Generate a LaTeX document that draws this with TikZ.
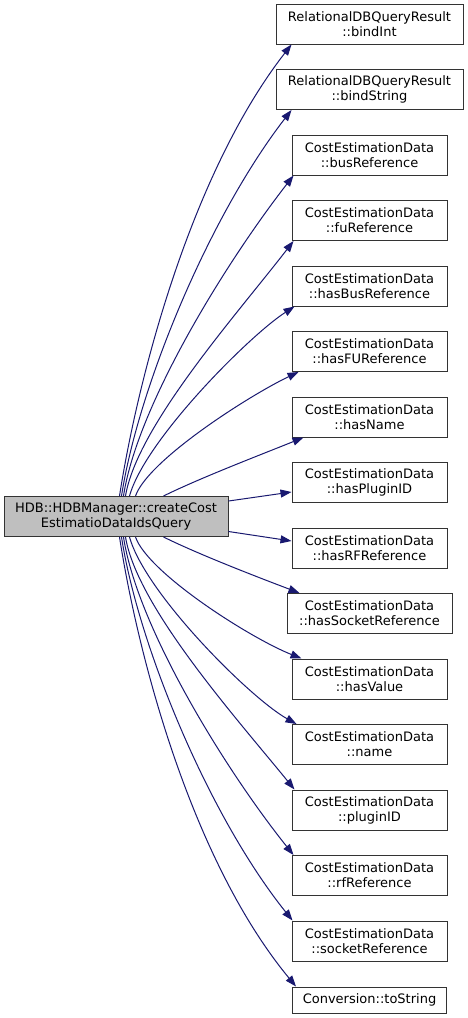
\documentclass[tikz,border=0pt]{standalone}
\usepackage{fontspec}
\setmainfont{DejaVu Sans}
\usetikzlibrary{arrows.meta,calc}
\definecolor{edgec}{HTML}{191970}
\definecolor{bordc}{HTML}{333333}
\definecolor{mainfill}{HTML}{BFBFBF}
\begin{document}
\begin{tikzpicture}[x=1pt,y=-1pt,
  every node/.style={font=\fontsize{13}{15}\selectfont},
  box/.style={draw=bordc, line width=1pt, fill=white, inner sep=0pt, align=center, minimum height=40pt, minimum width=155pt},
  edge/.style={draw=edgec, line width=1pt, -{Triangle[length=11pt,width=8pt]}}]
\fill[white] (0,0) rectangle (468,1018);
\useasboundingbox (0,0) rectangle (468,1018);
% main node
\node[box, fill=mainfill, minimum width=224pt] (m) at (116,516.5) {HDB::HDBManager::createCost\\EstimatioDataIdsQuery};
% callees
\node[box, minimum width=187pt] (b1) at (369.5,24) {RelationalDBQueryResult\\::bindInt};
\node[box, minimum width=187pt] (b2) at (369.5,89.5) {RelationalDBQueryResult\\::bindString};
\node[box] (b3) at (369.5,155) {CostEstimationData\\::busReference};
\node[box] (b4) at (369.5,220.5) {CostEstimationData\\::fuReference};
\node[box] (b5) at (369.5,286) {CostEstimationData\\::hasBusReference};
\node[box] (b6) at (369.5,351.5) {CostEstimationData\\::hasFUReference};
\node[box] (b7) at (369.5,417) {CostEstimationData\\::hasName};
\node[box] (b8) at (369.5,482.5) {CostEstimationData\\::hasPluginID};
\node[box] (b9) at (369.5,548) {CostEstimationData\\::hasRFReference};
\node[box, minimum width=165pt] (b10) at (369.5,613.5) {CostEstimationData\\::hasSocketReference};
\node[box] (b11) at (369.5,679) {CostEstimationData\\::hasValue};
\node[box] (b12) at (369.5,744.5) {CostEstimationData\\::name};
\node[box] (b13) at (369.5,810) {CostEstimationData\\::pluginID};
\node[box] (b14) at (369.5,875.5) {CostEstimationData\\::rfReference};
\node[box] (b15) at (369.5,941) {CostEstimationData\\::socketReference};
\node[box, minimum width=154pt, minimum height=26pt] (b16) at (369.5,1000) {Conversion::toString};
% upper edges
\draw[edge] ($(m.north west)+(116,0)$) .. controls (139,371) and (193,171) .. ($(b1.south west)+(16,0)$);
\draw[edge] ($(m.north west)+(118,0)$) .. controls (138,389) and (208,218) .. ($(b2.south west)+(16,0)$);
\draw[edge] ($(m.north west)+(120,0)$) .. controls (137,407) and (224,265) .. ($(b3.south west)+(2,0)$);
\draw[edge] ($(m.north west)+(122,0)$) .. controls (137,426) and (238,313) .. ($(b4.south west)+(2,0)$);
\draw[edge] ($(m.north west)+(126,0)$) .. controls (145,440) and (250,335) .. ($(b5.south west)+(3,0)$);
\draw[edge] ($(m.north west)+(132,0)$) .. controls (148,460) and (250,395) .. ($(b6.south west)+(7,0)$);
\draw[edge] ($(m.north west)+(160,0)$) .. controls (200,478) and (260,455) .. ($(b7.south west)+(12,0)$);
% middle edges
\draw[edge] ($(m.east)+(0,-15.5)$) -- ($(b8.west)+(0,9.5)$);
\draw[edge] ($(m.east)+(0,15)$) -- ($(b9.west)+(0,-7)$);
% lower edges
\draw[edge] ($(m.south west)+(160,0)$) .. controls (200,555) and (260,578) .. ($(b10.north west)+(13,0)$);
\draw[edge] ($(m.south west)+(132,0)$) .. controls (148,573) and (250,638) .. ($(b11.north west)+(10,0)$);
\draw[edge] ($(m.south west)+(126,0)$) .. controls (145,593) and (250,698) .. ($(b12.north west)+(5,0)$);
\draw[edge] ($(m.south west)+(122,0)$) .. controls (137,607) and (238,720) .. ($(b13.north west)+(3,0)$);
\draw[edge] ($(m.south west)+(120,0)$) .. controls (137,626) and (224,768) .. ($(b14.north west)+(2,0)$);
\draw[edge] ($(m.south west)+(118,0)$) .. controls (138,644) and (208,815) .. ($(b15.north west)+(1,0)$);
\draw[edge] ($(m.south west)+(116,0)$) .. controls (139,662) and (193,862) .. ($(b16.north west)+(4,0)$);
\end{tikzpicture}
\end{document}
